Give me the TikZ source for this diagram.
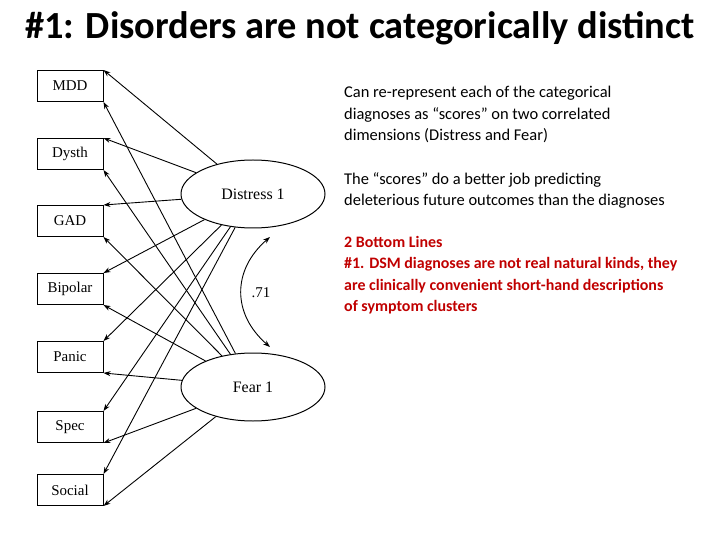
\documentclass[tikz,border=0pt]{standalone}
\usepackage{fontspec}
\setmainfont{Carlito}
\newfontfamily\diagfont{Liberation Serif}
\usetikzlibrary{arrows.meta,shapes.geometric}
\definecolor{dred}{RGB}{192,0,0}
\begin{document}
\begin{tikzpicture}[x=1bp,y=-1bp,
  box/.style={draw,line width=1pt,minimum width=66bp,minimum height=31bp,inner sep=0pt,font=\diagfont\fontsize{15}{15}\selectfont},
  lat/.style={draw,ellipse,line width=1pt,minimum width=144bp,minimum height=68bp,inner sep=0pt,font=\diagfont\fontsize{16}{16}\selectfont},
  ar/.style={-{Stealth[length=7bp,width=5bp]},line width=0.9pt},
  txt/.style={anchor=north west,align=left,inner sep=0pt,font=\fontsize{16.5}{21.6}\selectfont}]
\useasboundingbox (0,0) rectangle (720,540);
\node[font=\bfseries\fontsize{38.5}{38}\selectfont] (title) at (360,28) {\#1: Disorders are not categorically distinct};
\foreach \n/\t/\y in {m/MDD/86,d/Dysth/154,g/GAD/221,b/Bipolar/289,p/Panic/357,s/Spec/427,o/Social/490}
  \node[box] (\n) at (70,\y) {\t};
\node[lat] (D) at (253,194) {Distress 1};
\node[lat] (F) at (253,387) {Fear 1};
\foreach \n in {m,d,g,b,p,s,o}{
  \draw[ar] (D) -- (\n.north east);
  \draw[ar] (F) -- (\n.south east);
}
\coordinate (c1) at (270,237);
\coordinate (c2) at (270,347);
\draw[{Stealth[length=7bp,width=5bp]}-{Stealth[length=7bp,width=5bp]},line width=0.9pt] (c1) .. controls (232,270) and (232,314) .. (c2);
\node[font=\diagfont\fontsize{15}{15}\selectfont] (r) at (261,293) {.71};
\node[txt] (t1) at (344,86) {Can re-represent each of the categorical\\diagnoses as ``scores'' on two correlated\\dimensions (Distress and Fear)};
\node[txt] (t2) at (344,172) {The ``scores'' do a better job predicting\\deleterious future outcomes than the diagnoses};
\node[txt,text=dred,font=\bfseries\fontsize{16}{21.6}\selectfont] (t3) at (344,236) {2 Bottom Lines\\\#1. DSM diagnoses are not real natural kinds, they\\are clinically convenient short-hand descriptions\\of symptom clusters};
\end{tikzpicture}
\end{document}
